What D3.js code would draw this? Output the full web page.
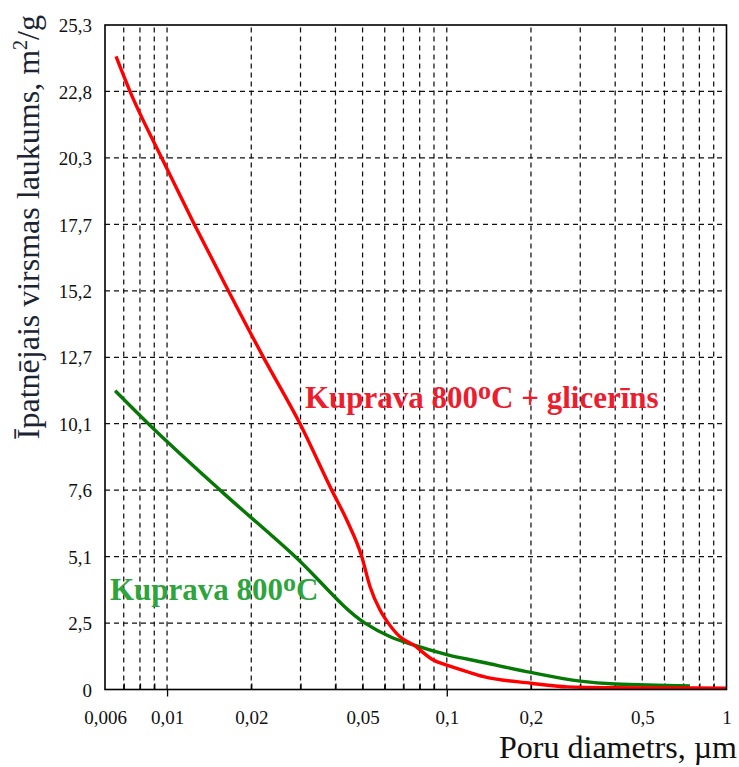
<!DOCTYPE html>
<html>
<head>
<meta charset="utf-8">
<script src="https://cdn.jsdelivr.net/npm/d3@7/dist/d3.min.js"></script>
<style>
  html, body { margin: 0; padding: 0; background: #fff; }
  svg { display: block; }
  text { font-family: "Liberation Serif", "Times New Roman", serif; }
</style>
</head>
<body>
<svg id="chart" width="739" height="767"></svg>
<script>
// Kuprava 800°C + glicerīns
const glycerinDiam = [0.00657, 0.00737, 0.00957, 0.01252, 0.01656, 0.02209, 0.02988, 0.03879, 0.0439,
  0.04966, 0.05317, 0.05773, 0.0618, 0.068, 0.076, 0.0895, 0.1, 0.118, 0.1355, 0.2, 0.27, 0.4, 0.6, 1.0];
const glycerinArea = [24.13, 22.8, 20.26, 17.73, 15.2, 12.67, 10.13, 7.6, 6.46,
  5.07, 3.92, 3.03, 2.53, 2.01, 1.70, 1.125, 0.93, 0.68, 0.49, 0.24, 0.1, 0.07, 0.06, 0.05];

// Kuprava 800°C
const plainDiam = [0.00652, 0.00857, 0.01547, 0.02867, 0.05102, 0.0628, 0.076, 0.1, 0.1355, 0.2, 0.3, 0.4, 0.74];
const plainArea = [11.39, 10.13, 7.6, 5.07, 2.53, 2.01, 1.70, 1.33, 1.03, 0.65, 0.32, 0.21, 0.14];

const yMax = 25.33;
const yTickLabels = ["0", "2,5", "5,1", "7,6", "10,1", "12,7", "15,2", "17,7", "20,3", "22,8", "25,3"];
const xTickValues = [0.006, 0.01, 0.02, 0.05, 0.1, 0.2, 0.5, 1];
const xTickLabels = ["0,006", "0,01", "0,02", "0,05", "0,1", "0,2", "0,5", "1"];

const svg = d3.select("#chart");
const plotLeft = 105, plotRight = 726.5, plotTop = 25, plotBottom = 689.5;

const x = d3.scaleLog().domain([0.006, 1]).range([plotLeft, plotRight]);
const y = d3.scaleLinear().domain([0, yMax]).range([plotBottom, plotTop]);

const yTicks = d3.range(yTickLabels.length).map(i => i * yMax / (yTickLabels.length - 1));

// every 1..9 multiple inside the domain
const gridX = [];
[0.001, 0.01, 0.1].forEach(dec => {
  for (let k = 1; k <= 9; k++) {
    const v = +(k * dec).toPrecision(3);
    if (v > 0.006 && v < 1) gridX.push(v);
  }
});
const decades = [0.01, 0.1];
const minorX = gridX.filter(v => !decades.includes(v));

// grid
const grid = svg.append("g").attr("stroke", "#111").attr("stroke-width", 1.25)
  .attr("stroke-dasharray", "5,4").attr("fill", "none");
grid.selectAll("line.v").data(gridX).join("line").attr("class", "v")
  .attr("x1", d => x(d)).attr("x2", d => x(d)).attr("y1", plotBottom).attr("y2", plotTop);
grid.selectAll("line.h").data(yTicks.slice(1, -1)).join("line").attr("class", "h")
  .attr("x1", plotLeft).attr("x2", plotRight).attr("y1", d => y(d)).attr("y2", d => y(d));

// bottom axis ticks
const minorAxis = d3.axisBottom(x).tickValues(minorX).tickSize(-6).tickFormat("").tickSizeOuter(0);
const majorAxis = d3.axisBottom(x).tickValues(decades).tickSize(7).tickFormat("").tickSizeOuter(0);
[minorAxis, majorAxis].forEach(ax => {
  const g = svg.append("g").attr("transform", `translate(0,${plotBottom})`).call(ax);
  g.select(".domain").remove();
  g.selectAll("line").attr("stroke", "#000").attr("stroke-width", 1.3);
});

// x tick labels
const xLabelAxis = d3.axisBottom(x).tickValues(xTickValues)
  .tickFormat((d, i) => xTickLabels[i]).tickSize(0).tickPadding(0);
const gxl = svg.append("g").attr("transform", `translate(0,${plotBottom})`).call(xLabelAxis);
gxl.select(".domain").remove();
gxl.selectAll("text").attr("y", 34).attr("dy", null)
  .attr("font-family", "Liberation Serif").attr("font-size", 19).attr("fill", "#111");

// y tick labels
const yLabelAxis = d3.axisLeft(y).tickValues(yTicks)
  .tickFormat((d, i) => yTickLabels[i]).tickSize(0).tickPadding(13);
const gyl = svg.append("g").attr("transform", `translate(${plotLeft},0)`).call(yLabelAxis);
gyl.select(".domain").remove();
gyl.selectAll("text").attr("dy", "0.35em")
  .attr("font-family", "Liberation Serif").attr("font-size", 19).attr("fill", "#111");

// curves
const line = d3.line().x(d => x(d[0])).y(d => y(d[1])).curve(d3.curveMonotoneX);
svg.append("path").datum(plainDiam.map((d, i) => [d, plainArea[i]]))
  .attr("d", line).attr("fill", "none").attr("stroke", "#067806").attr("stroke-width", 3.4)
  .attr("stroke-linejoin", "round");
svg.append("path").datum(glycerinDiam.map((d, i) => [d, glycerinArea[i]]))
  .attr("d", line).attr("fill", "none").attr("stroke", "#ff0000").attr("stroke-width", 3.4)
  .attr("stroke-linejoin", "round");

// frame
svg.append("rect").attr("x", plotLeft).attr("y", plotTop)
  .attr("width", plotRight - plotLeft).attr("height", plotBottom - plotTop)
  .attr("fill", "none").attr("stroke", "#000").attr("stroke-width", 1.6);

// series labels
function seriesLabel(px, py, color, after) {
  const t = svg.append("text").attr("x", px).attr("y", py)
    .attr("font-family", "Liberation Serif").attr("font-weight", "bold")
    .attr("font-size", 31).attr("fill", color);
  t.append("tspan").text("Kuprava 800");
  t.append("tspan").text("o").attr("font-size", 26).attr("dy", -9);
  t.append("tspan").text("C" + after).attr("dy", 9);
}
seriesLabel(305, 408, "#ec1d2e", " + glicerīns");
seriesLabel(110, 600, "#2ea53c", "");

// axis titles
const yTitle = svg.append("text").attr("transform", "translate(39,15) rotate(-90)")
  .attr("text-anchor", "end").attr("font-size", 32).attr("fill", "#1a2433");
yTitle.append("tspan").text("Īpatnējais virsmas laukums, m");
yTitle.append("tspan").text("2").attr("font-size", 20).attr("dy", -12);
yTitle.append("tspan").text("/g").attr("dy", 12);

svg.append("text").attr("x", 737).attr("y", 758).attr("text-anchor", "end")
  .attr("font-size", 32).attr("fill", "#111").text("Poru diametrs, µm");
</script>
</body>
</html>
